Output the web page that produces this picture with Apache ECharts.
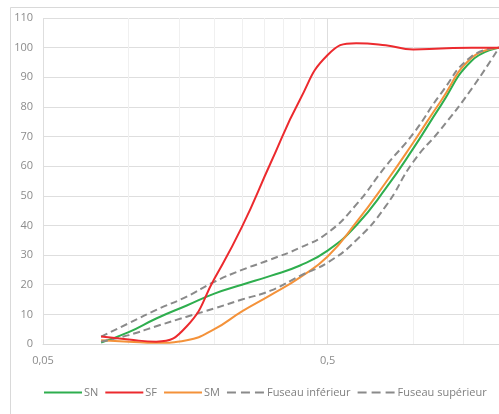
<!DOCTYPE html>
<html><head><meta charset="utf-8">
<script src="https://cdn.jsdelivr.net/npm/echarts@6/dist/echarts.min.js"></script>
<style>html,body{margin:0;padding:0;background:#fff}#c{width:499px;height:414px}</style>
</head><body><div id="c"></div>
<script>
const sieves = [0.08, 0.1, 0.125, 0.16, 0.2, 0.25, 0.315, 0.4, 0.5, 0.63, 0.8, 1, 1.25, 1.6, 2];
const SN = [0.5, 4, 8.6, 13, 17, 20, 23, 26.5, 31.5, 40, 52.5, 66, 80.5, 95.5, 100];
const SF = [2.5, 1.5, 0.8, 6, 22, 39.5, 61, 82.5, 97.5, 101.5, 100.8, 99.4, 99.7, 100, 100];
const SM = [1.3, 0.8, 0.4, 1.3, 5, 11, 16.5, 22.5, 29.5, 41, 54.5, 68, 82, 96.5, 100];
const fuseauInf = [0.8, 3, 6, 9.2, 12, 15, 18, 23, 27.5, 35, 46.5, 61.5, 72.5, 86, 100];
const fuseauSup = [2.5, 7, 11.5, 16, 21, 25, 28.5, 32.5, 37.5, 47, 60, 71, 84.5, 97, 100];
const xMin = 0.05, xMax = 2;
const xTickLabels = [0.05, 0.5];
const majorGrid = [0.05, 0.5];
const minorGrid = [0.1, 0.15, 0.2, 0.25, 0.3, 0.35, 0.4, 0.45, 1, 1.5];

const pairs = arr => sieves.map((s, i) => [s, arr[i]]);
const font = '"Open Sans", "Noto Sans", sans-serif';
const solid = (name, color, arr) => ({
  name, type: 'line', data: pairs(arr), smooth: true, symbol: 'none', zlevel: 1, z: 3,
  lineStyle: { color, width: 2 }, itemStyle: { color }
});
const dashed = (name, arr) => ({
  name, type: 'line', data: pairs(arr), smooth: true, symbol: 'none', zlevel: 1, z: 3,
  lineStyle: { color: '#8a8a8a', width: 2, type: [7, 4] }, itemStyle: { color: '#8a8a8a' }
});

const chart = echarts.init(document.getElementById('c'));
chart.setOption({
  animation: false,
  backgroundColor: '#fff',
  graphic: [{ type: 'rect', shape: { x: 10.5, y: 7.5, width: 520, height: 440 },
    style: { fill: 'none', stroke: '#d9d9d9', lineWidth: 1 }, silent: true }],
  grid: { left: 43, right: 0, top: 18, bottom: 70, containLabel: false },
  xAxis: {
    type: 'log', logBase: 10, min: xMin, max: xMax,
    axisLine: { show: true, lineStyle: { color: '#d9d9d9', width: 1 } },
    axisTick: { show: false, customValues: xTickLabels },
    axisLabel: {
      color: '#8c8c8c', fontSize: 11, fontFamily: font, margin: 11,
      customValues: xTickLabels,
      formatter: v => String(+(+v).toPrecision(6)).replace('.', ',')
    },
    splitLine: { show: false }
  },
  yAxis: {
    type: 'value', min: 0, max: 110, interval: 10,
    axisLine: { show: false }, axisTick: { show: false },
    axisLabel: { color: '#8c8c8c', fontSize: 11, fontFamily: font, margin: 10 },
    splitLine: { lineStyle: { color: '#dedede', width: 1 } }
  },
  legend: {
    bottom: 11, left: 38, itemWidth: 38, itemHeight: 10, itemGap: 6,
    itemStyle: { opacity: 0 },
    textStyle: { color: '#7f7f7f', fontSize: 11, fontFamily: font, padding: [0, 0, 0, -3] },
    data: ['SN', 'SF', 'SM',
      { name: 'Fuseau inférieur', lineStyle: { type: [9, 5] } },
      { name: 'Fuseau supérieur', lineStyle: { type: [9, 5] } }]
  },
  series: [
    { name: 'grid-minor', type: 'line', data: [], silent: true,
      markLine: { silent: true, symbol: 'none', label: { show: false }, z: 1, zlevel: 0,
        lineStyle: { color: '#f0f0f0', width: 1, type: 'solid' },
        data: minorGrid.map(v => ({ xAxis: v })) } },
    { name: 'grid-major', type: 'line', data: [], silent: true,
      markLine: { silent: true, symbol: 'none', label: { show: false }, z: 1, zlevel: 0,
        lineStyle: { color: '#dedede', width: 1, type: 'solid' },
        data: majorGrid.map(v => ({ xAxis: v })) } },
    solid('SN', '#2eae4e', SN),
    solid('SM', '#f4923a', SM),
    dashed('Fuseau inférieur', fuseauInf),
    dashed('Fuseau supérieur', fuseauSup),
    solid('SF', '#ec2a2e', SF)
  ]
});
</script></body></html>
